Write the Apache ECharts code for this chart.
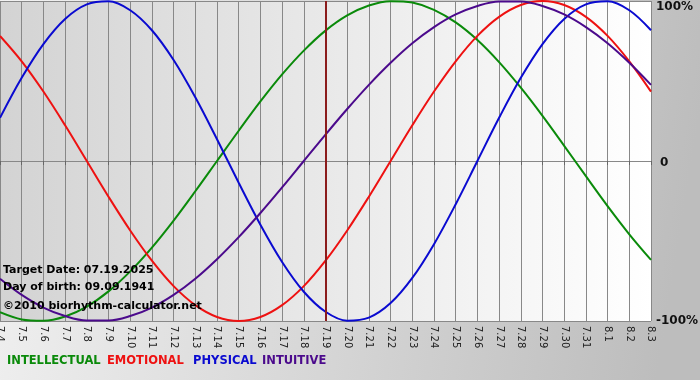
<!DOCTYPE html>
<html>
<head>
<meta charset="utf-8">
<script src="https://cdn.jsdelivr.net/npm/echarts@6/dist/echarts.min.js"></script>
<style>
html,body{margin:0;padding:0;}
#c{width:700px;height:380px;}
</style>
</head>
<body>
<div id="c"></div>
<script>
var categories = ['7.4','7.5','7.6','7.7','7.8','7.9','7.10','7.11','7.12','7.13','7.14','7.15','7.16','7.17','7.18','7.19','7.20','7.21','7.22','7.23','7.24','7.25','7.26','7.27','7.28','7.29','7.30','7.31','8.1','8.2','8.3'];
var intellectual = [-0.945,-0.990,-0.999,-0.972,-0.910,-0.815,-0.690,-0.541,-0.372,-0.189,0,0.189,0.372,0.541,0.690,0.815,0.910,0.972,0.999,0.990,0.945,0.866,0.756,0.618,0.458,0.282,0.095,-0.095,-0.282,-0.458,-0.618];
var emotional = [0.782,0.623,0.434,0.223,0,-0.223,-0.434,-0.623,-0.782,-0.901,-0.975,-1.000,-0.975,-0.901,-0.782,-0.623,-0.434,-0.223,0,0.223,0.434,0.623,0.782,0.901,0.975,1.000,0.975,0.901,0.782,0.623,0.434];
var physical = [0.270,0.520,0.731,0.888,0.979,0.998,0.942,0.817,0.631,0.398,0.136,-0.136,-0.398,-0.631,-0.817,-0.942,-0.998,-0.979,-0.888,-0.731,-0.520,-0.270,0,0.270,0.520,0.731,0.888,0.979,0.998,0.942,0.817];
var intuitive = [-0.736,-0.837,-0.916,-0.969,-0.997,-0.997,-0.969,-0.916,-0.837,-0.736,-0.614,-0.476,-0.325,-0.165,0,0.165,0.325,0.476,0.614,0.736,0.837,0.916,0.969,0.997,0.997,0.969,0.916,0.837,0.736,0.614,0.476];
var yTickLabels = {'-1':'-100%','0':'0','1':'100%'};
var targetDate = '7.19';
var infoLines = ['Target Date: 07.19.2025','Day of birth: 09.09.1941','\u00a92010 biorhythm-calculator.net'];
var seriesNames = ['INTELLECTUAL','EMOTIONAL','PHYSICAL','INTUITIVE'];
var seriesColors = ['#0a8a0a','#ee1111','#0a0ad0','#4b0a8c'];
var seriesData = [intellectual, emotional, physical, intuitive];

var chart = echarts.init(document.getElementById('c'));
var font = 'DejaVu Sans';
var series = seriesNames.map(function(n,i){
  return {
    name:n, type:'line', data:seriesData[i], smooth:0.35, showSymbol:false, symbol:'none',
    lineStyle:{color:seriesColors[i], width:2}, itemStyle:{color:seriesColors[i]}, z:3
  };
});
series.push({
  type:'line', data:[], markLine:{symbol:'none', silent:true, label:{show:false},
    lineStyle:{color:'#8b1c1c', width:2, type:'solid'}, data:[{xAxis:targetDate}]}, z:2
});
var graphics = [];
infoLines.forEach(function(t,i){
  graphics.push({type:'text', left:3, top:[265,282,301][i], z:10,
    style:{text:t, fill:'#000', font:'bold 11px "DejaVu Sans"'}});
});
var gx = [7,107,193,262];
seriesNames.forEach(function(n,i){
  graphics.push({type:'text', left:gx[i], top:355, z:10,
    style:{text:n, fill:seriesColors[i], font:'bold 11.5px "DejaVu Sans"'}});
});
chart.setOption({
  animation:false,
  backgroundColor:new echarts.graphic.LinearGradient(0,0,1,0.3,[{offset:0,color:'#f2f2f2'},{offset:1,color:'#bdbdbd'}]),
  textStyle:{fontFamily:font},
  grid:{left:0, right:49, top:1, bottom:59, show:true, borderWidth:0, containLabel:false, outerBoundsMode:'none',
    backgroundColor:new echarts.graphic.LinearGradient(0,0,1,0,[{offset:0,color:'#d3d3d3'},{offset:1,color:'#ffffff'}])},
  xAxis:{type:'category', data:categories, boundaryGap:false,
    axisLine:{lineStyle:{color:'#888', width:1}},
    axisTick:{show:true, length:4, interval:0, lineStyle:{color:'#666'}},
    axisLabel:{rotate:-90, interval:0, fontSize:10, color:'#222', margin:5, fontFamily:font},
    splitLine:{show:true, interval:0, lineStyle:{color:'#888', width:1}}},
  yAxis:{type:'value', min:-1, max:1, interval:1, position:'right',
    axisLine:{show:false}, axisTick:{show:false},
    axisLabel:{color:'#111', fontSize:12, fontWeight:'bold', margin:5, fontFamily:font,
      formatter:function(v){
        var t = yTickLabels[String(v)];
        if (v === 1) return '{top|' + t + '}';
        if (v === 0) return '{mid|' + t + '}';
        return t;
      },
      rich:{
        top:{color:'#111', fontSize:12, fontWeight:'bold', fontFamily:font, padding:[12,0,0,0]},
        mid:{color:'#111', fontSize:12, fontWeight:'bold', fontFamily:font, padding:[4,0,0,4]}
      }},
    splitLine:{show:true, lineStyle:{color:'#888', width:1}}},
  graphic:graphics,
  series:series
});
</script>
</body>
</html>
